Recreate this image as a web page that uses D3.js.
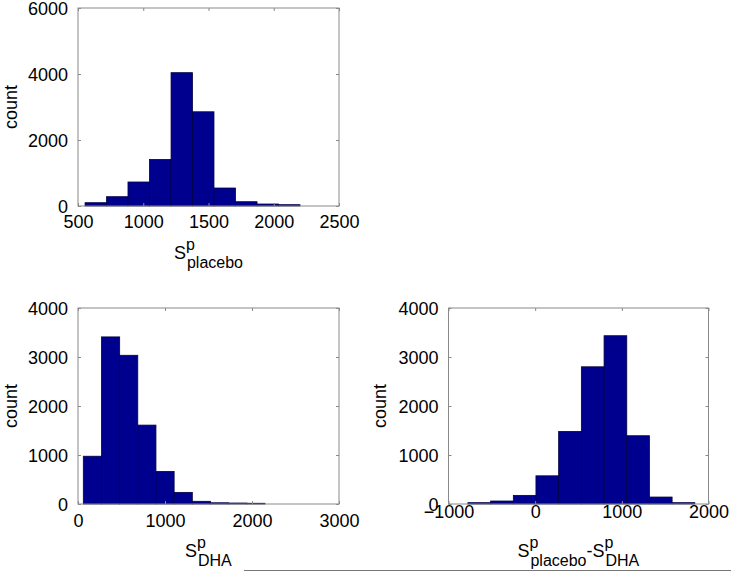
<!DOCTYPE html>
<html>
<head>
<meta charset="utf-8">
<script src="https://cdn.jsdelivr.net/npm/d3@7"></script>
<style>
  html, body { margin: 0; padding: 0; background: #fff; }
  svg { display: block; }
  text { font-family: "Liberation Sans", Arial, Helvetica, sans-serif; fill: #000; }
</style>
</head>
<body>
<svg id="chart" width="731" height="572"></svg>
<script>
// ---- Data ----
const placeboEdges = [554, 719, 883, 1048, 1213, 1377, 1542, 1707, 1872, 2036, 2201];
const placeboCounts = [100, 282, 727, 1410, 4040, 2855, 545, 130, 60, 40];

const dhaEdges = [61, 270, 479, 687, 896, 1105, 1314, 1523, 1731, 1940, 2149];
const dhaCounts = [975, 3410, 3035, 1610, 665, 237, 55, 25, 20, 15];

const diffEdges = [-776, -514, -252, 9, 271, 533, 795, 1057, 1318, 1580, 1842];
const diffCounts = [27, 61, 176, 575, 1481, 2800, 3434, 1393, 142, 27];

const placeboXTicks = [500, 1000, 1500, 2000, 2500];
const placeboYTicks = [0, 2000, 4000, 6000];
const dhaXTicks = [0, 1000, 2000, 3000];
const dhaYTicks = [0, 1000, 2000, 3000, 4000];
const diffXTicks = [-1000, 0, 1000, 2000];
const diffYTicks = [0, 1000, 2000, 3000, 4000];

const yLabelText = "count";

const svg = d3.select("#chart");
const FS = 18;
const FONT = '"Liberation Sans", Arial, Helvetica, sans-serif';
const FRAME = "#8a8a8a";

function panel(opts) {
  const { x0, x1, y0, y1, xDomain, yDomain, xTicks, yTicks, edges, counts, xTickDy, countX, xlabel } = opts;
  const x = d3.scaleLinear().domain(xDomain).range([x0, x1]);
  const y = d3.scaleLinear().domain(yDomain).range([y1, y0]);
  const g = svg.append("g");

  const bins = counts.map((c, i) => ({ a: edges[i], b: edges[i + 1], c }));
  g.selectAll("rect.bar").data(bins).enter().append("rect")
    .attr("class", "bar")
    .attr("x", d => x(d.a))
    .attr("width", d => x(d.b) - x(d.a))
    .attr("y", d => y(d.c))
    .attr("height", d => y(0) - y(d.c))
    .attr("fill", "#00008f")
    .attr("stroke", "#000040")
    .attr("stroke-width", 0.8);

  // frame
  g.append("rect")
    .attr("x", x0).attr("y", y0)
    .attr("width", x1 - x0).attr("height", y1 - y0)
    .attr("fill", "none").attr("stroke", FRAME).attr("stroke-width", 1);

  const tl = 3;
  // bottom axis (ticks inward) + top mirror
  const xb = d3.axisBottom(x).tickValues(xTicks).tickSize(-tl).tickPadding(0).tickFormat(d3.format("d"));
  const xa = g.append("g").attr("transform", `translate(0,${y1})`).call(xb);
  xa.select(".domain").remove();
  xa.selectAll(".tick line").attr("stroke", FRAME);
  xa.selectAll(".tick text").attr("font-size", FS).attr("dy", null).attr("y", xTickDy)
    .attr("font-family", FONT).attr("fill", "#000");
  const xt = d3.axisTop(x).tickValues(xTicks).tickSize(-tl).tickFormat("");
  const xta = g.append("g").attr("transform", `translate(0,${y0})`).call(xt);
  xta.select(".domain").remove();
  xta.selectAll(".tick line").attr("stroke", FRAME);

  // left axis + right mirror
  const yl = d3.axisLeft(y).tickValues(yTicks).tickSize(-tl).tickPadding(7 + tl).tickFormat(d3.format("d"));
  const ya = g.append("g").attr("transform", `translate(${x0},0)`).call(yl);
  ya.select(".domain").remove();
  ya.selectAll(".tick line").attr("stroke", FRAME);
  ya.selectAll(".tick text").attr("font-size", FS).attr("dy", "0.36em")
    .attr("font-family", FONT).attr("fill", "#000");
  const yr = d3.axisRight(y).tickValues(yTicks).tickSize(-tl).tickFormat("");
  const yra = g.append("g").attr("transform", `translate(${x1},0)`).call(yr);
  yra.select(".domain").remove();
  yra.selectAll(".tick line").attr("stroke", FRAME);

  // y label
  g.append("text")
    .attr("transform", `translate(${countX},${(y0 + y1) / 2}) rotate(-90)`)
    .attr("text-anchor", "middle")
    .attr("font-size", FS)
    .text(yLabelText);

  // x label with super/subscripts
  const lg = g.append("g");
  let cx = 0;
  xlabel.forEach(part => {
    const t = lg.append("text").attr("x", cx).attr("y", 0).attr("font-size", FS).text(part.base);
    cx += t.node().getComputedTextLength();
    if (part.sup || part.sub) {
      let w = 0;
      if (part.sup) {
        const s = lg.append("text").attr("x", cx).attr("y", -9).attr("font-size", 16).text(part.sup);
        w = Math.max(w, s.node().getComputedTextLength());
      }
      if (part.sub) {
        const s = lg.append("text").attr("x", cx + 1).attr("y", 9).attr("font-size", 16).text(part.sub);
        w = Math.max(w, s.node().getComputedTextLength() + 1);
      }
      cx += w;
    }
  });
  const bb = lg.node().getBBox();
  const center = (x0 + x1) / 2;
  lg.attr("transform", `translate(${center - (bb.x + bb.width / 2)},${y1 + 52.5})`);
}

panel({
  x0: 78, x1: 339, y0: 8, y1: 206,
  xDomain: [500, 2500], yDomain: [0, 6000],
  xTicks: placeboXTicks, yTicks: placeboYTicks,
  edges: placeboEdges, counts: placeboCounts,
  xTickDy: 21.5, countX: 16.5,
  xlabel: [{ base: "S", sup: "p", sub: "placebo" }]
});

panel({
  x0: 78, x1: 339, y0: 308, y1: 504,
  xDomain: [0, 3000], yDomain: [0, 4000],
  xTicks: dhaXTicks, yTicks: dhaYTicks,
  edges: dhaEdges, counts: dhaCounts,
  xTickDy: 22.5, countX: 16.5,
  xlabel: [{ base: "S", sup: "p", sub: "DHA" }]
});

panel({
  x0: 448.5, x1: 708.5, y0: 308, y1: 504,
  xDomain: [-1000, 2000], yDomain: [0, 4000],
  xTicks: diffXTicks, yTicks: diffYTicks,
  edges: diffEdges, counts: diffCounts,
  xTickDy: 13.7, countX: 386,
  xlabel: [{ base: "S", sup: "p", sub: "placebo" }, { base: "-S", sup: "p", sub: "DHA" }]
});

// horizontal rule at the bottom of the figure
svg.append("line")
  .attr("x1", 244).attr("x2", 731).attr("y1", 570.5).attr("y2", 570.5)
  .attr("stroke", "#777").attr("stroke-width", 1);
</script>
</body>
</html>
